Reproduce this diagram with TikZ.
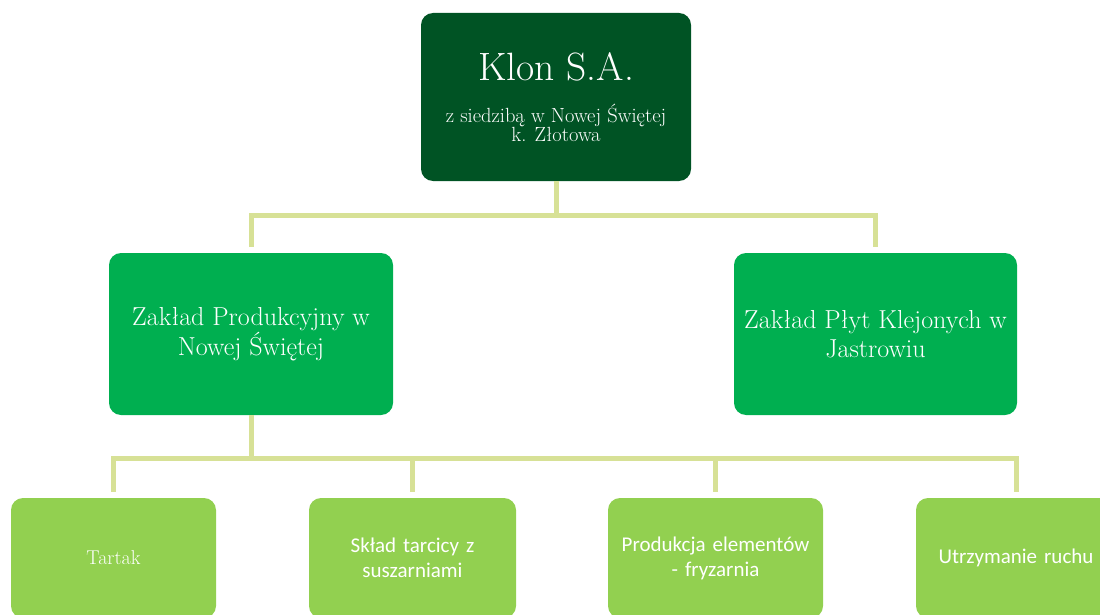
\documentclass[tikz,border=0pt]{standalone}
\usepackage{fontspec}
\newfontfamily\calibri{Carlito}
\usetikzlibrary{calc}
\usetikzlibrary{positioning}
\definecolor{dark-green}{RGB}{0,83,36}
\definecolor{mid-green}{RGB}{0,175,80}
\definecolor{light-green}{RGB}{146,208,80}
\definecolor{pale-line}{RGB}{215,225,150}

\newcommand{\subsize}{\fontsize{20.5}{25}\selectfont}

\tikzset{
  box/.style={rectangle, rounded corners=12pt, text=white, align=center, inner sep=0pt},
  topbox/.style={box, fill=dark-green, minimum width=270pt, minimum height=168pt},
  unitbox/.style={box, fill=mid-green, minimum width=284pt, minimum height=162pt,
                  font=\fontsize{26}{28.5}\selectfont},
  deptbox/.style={box, fill=light-green, minimum height=120pt, text width=200pt,
                  font=\calibri\fontsize{21}{25}\selectfont},
  conn/.style={draw=pale-line, line width=5pt, line cap=rect}
}

\begin{document}
\begin{tikzpicture}[x=1pt, y=-1pt]
% Page (pixel grid)
\useasboundingbox (0, 0) rectangle (1100, 615);
\clip (0, 0) rectangle (1100, 615);

% ---------------------------------------------------
% Company
\node[topbox] (klon) at (556, 97)
  {\fontsize{39.5}{44}\selectfont Klon S.A.\\[22pt]
   \subsize z siedzibą w Nowej Świętej\\
   \subsize k. Złotowa};

% Plants
\node[unitbox] (zpn) at (251, 334) {Zakład Produkcyjny w\\ Nowej Świętej};
\node[unitbox, minimum width=283pt] (zpk) at (875.5, 334) {Zakład Płyt Klejonych w\\ Jastrowiu};

% Departments
\node[deptbox, minimum width=205pt, font=\fontsize{20}{24}\selectfont] (tartak) at (113.5, 558) {Tartak};
\node[deptbox, minimum width=207pt] (sklad) at (412.5, 558) {Skład tarcicy z\\ suszarniami};
\node[deptbox, minimum width=215pt] (prod) at (715.5, 558) {Produkcja elementów\\ - fryzarnia};
\node[deptbox, minimum width=200pt] (utrz) at (1016, 558) {Utrzymanie ruchu};

% ---------------------------------------------------
% Connectors
\coordinate[] (bus1) at (556, 215);
\draw[conn] ($ (klon.south) + (0, 2) $) -- (bus1);
\draw[conn, shorten >=8pt] (bus1) -| (zpn.north);
\draw[conn, shorten >=8pt] (bus1) -| (zpk.north);

\coordinate[] (bus2) at (251, 458);
\draw[conn] ($ (zpn.south) + (0, 2) $) -- (bus2);
\foreach \dept in {tartak, sklad, prod, utrz}
  \draw[conn, shorten >=8pt] (bus2) -| (\dept.north);
% ---------------------------------------------------
\end{tikzpicture}
\end{document}
